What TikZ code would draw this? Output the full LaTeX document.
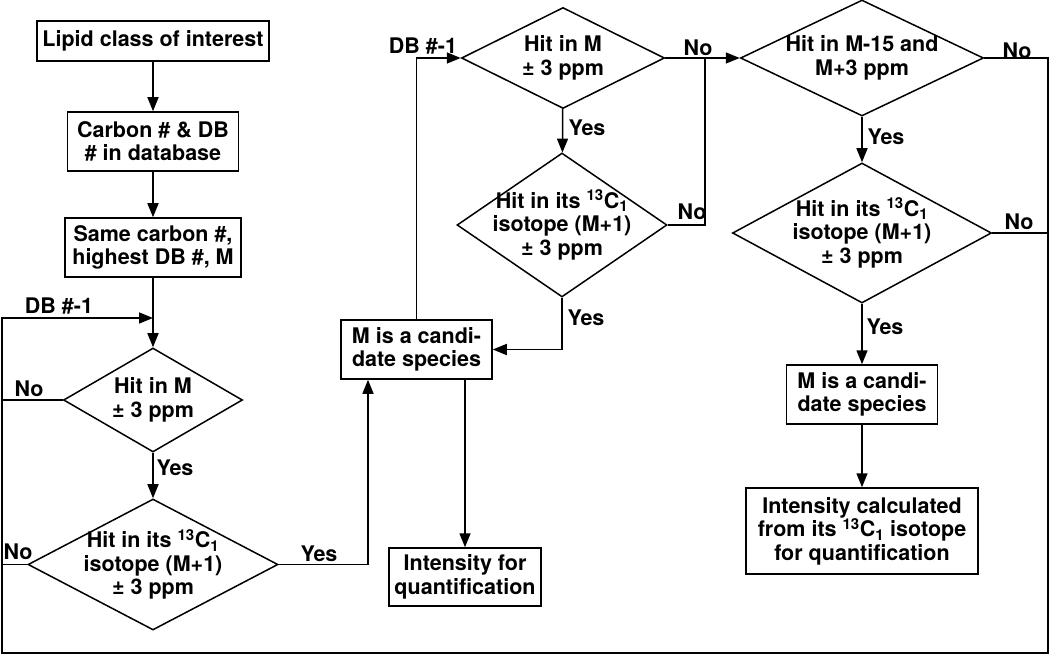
\documentclass[tikz,border=0pt]{standalone}
\usepackage{fontspec}
\setmainfont{TeX Gyre Heros}
\usetikzlibrary{shapes.geometric,arrows.meta}
\newcommand\ctc{\textsuperscript{13}C\textsubscript{1}}
\begin{document}
\begin{tikzpicture}[x=1pt,y=-1pt,
  every node/.style={font=\bfseries\fontsize{21.5}{23.5}\selectfont},
  box/.style={draw, line width=1.5pt, inner sep=0pt, align=center},
  dia/.style={draw, diamond, line width=1.5pt, inner sep=0pt},
  lbl/.style={inner sep=0pt},
  conn/.style={line width=1.5pt},
  arr/.style={conn, -{Triangle[length=14pt,width=11pt]}}]
\useasboundingbox (0,0) rectangle (1050,655);

% left column
\node[box, minimum width=232pt, minimum height=40pt] (b1) at (153,41) {Lipid class of interest};
\node[box, minimum width=171pt, minimum height=59pt] (b2) at (153,141.5) {Carbon \# \& DB\\\# in database};
\node[box, minimum width=176pt, minimum height=59pt] (b3) at (153,247.5) {Same carbon \#,\\highest DB \#, M};
\node[dia, minimum width=179pt, minimum height=104pt,
  label={[lbl,align=center]center:Hit in M\\± 3 ppm}] (d1) at (153,400) {};
\node[dia, minimum width=250pt, minimum height=131pt,
  label={[lbl,align=center]center:Hit in its \ctc\\isotope (M+1)\\± 3 ppm}] (d2) at (153,564.5) {};

% middle column
\node[dia, minimum width=203pt, minimum height=101pt,
  label={[lbl,align=center]center:Hit in M\\± 3 ppm}] (d3) at (563,58) {};
\node[dia, minimum width=210pt, minimum height=144pt,
  label={[lbl,align=center]center:Hit in its \ctc\\isotope (M+1)\\± 3 ppm}] (d4) at (562,225) {};
\node[box, minimum width=151pt, minimum height=59pt] (mbox) at (416.5,349.5) {M is a candi-\\date species};
\node[box, minimum width=152pt, minimum height=58pt] (int) at (465,577) {Intensity for\\quantification};

% right column
\node[dia, minimum width=243pt, minimum height=116pt,
  label={[lbl,align=center]center:Hit in M-15 and\\M+3 ppm}] (d5) at (862,58) {};
\node[dia, minimum width=259pt, minimum height=140pt,
  label={[lbl,align=center]center:Hit in its \ctc\\isotope (M+1)\\± 3 ppm}] (d6) at (862,233) {};
\node[box, minimum width=151pt, minimum height=59pt] (rbox) at (862,394.5) {M is a candi-\\date species};
\node[box, minimum width=232pt, minimum height=86pt] (rint) at (862,531) {Intensity calculated\\from its \ctc{} isotope\\for quantification};

% coordinates
\coordinate (rx) at (1048,653);
\coordinate (lx) at (2,653);
\coordinate (lj) at (2,318);
\coordinate (yc) at (368,564.5);
\coordinate (jn) at (705,58);

% connectors left
\draw[arr] (b1) -- (b2);
\draw[arr] (b2) -- (b3);
\draw[arr] (b3) -- (d1);
\draw[arr] (d1) -- (d2);
\draw[arr] (d5.east) -- (d5.east -| rx) -- (rx) -- (lx) -- (lj) -- (lj -| d1.north);
\draw[conn] (d6.east) -- (d6.east -| rx);
\draw[conn] (d1.west) -- (d1.west -| lx);
\draw[conn] (d2.west) -- (d2.west -| lx);
\draw[arr] (d2.east) -- (yc) -- (yc |- mbox.south);

% connectors middle
\draw[arr] (mbox.north) |- (d3.west);
\draw[arr] (d3) -- (d4);
\draw[arr] (d4.south) |- (mbox.east);
\draw[arr] (mbox.south -| int.north) -- (int.north);
\draw[arr] (d3.east) -- (d5.west);
\draw[conn] (d4.east) -| (jn);

% connectors right
\draw[arr] (d5) -- (d6);
\draw[arr] (d6) -- (rbox);
\draw[arr] (rbox) -- (rint);

% labels
\node[lbl] (t1) at (59,306) {DB \#-1};
\node[lbl] (t2) at (29,389) {No};
\node[lbl] (t3) at (175,468) {Yes};
\node[lbl] (t4) at (18,552) {No};
\node[lbl] (t5) at (319,554) {Yes};
\node[lbl] (t6) at (423,46) {DB \#-1};
\node[lbl] (t7) at (698,48) {No};
\node[lbl] (t8) at (587,128) {Yes};
\node[lbl] (t9) at (692,212) {No};
\node[lbl] (t10) at (586,318) {Yes};
\node[lbl] (t11) at (1017,51) {No};
\node[lbl] (t12) at (886,137) {Yes};
\node[lbl] (t13) at (1019,222) {No};
\node[lbl] (t14) at (885,327) {Yes};
\end{tikzpicture}
\end{document}
